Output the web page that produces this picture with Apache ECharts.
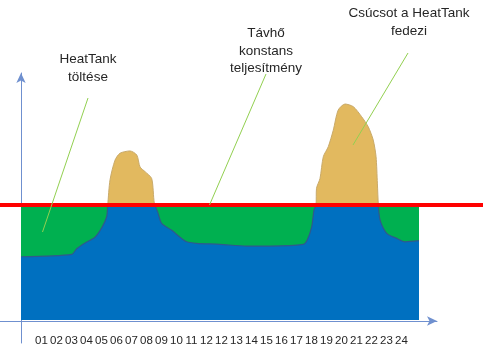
<!DOCTYPE html>
<html>
<head>
<meta charset="utf-8">
<script src="https://cdn.jsdelivr.net/npm/echarts@6/dist/echarts.min.js"></script>
<style>
html,body{margin:0;padding:0;background:#fff;}
#c{width:487px;height:356px;}
</style>
</head>
<body>
<div id="c"></div>
<script>
// hour of day (x) and heat demand (relative units, constant supply level = 100)
var hours  = [0, 3.06, 3.36, 3.86, 4.46, 4.90, 5.17, 5.23, 5.37, 5.67, 5.97, 6.57, 6.98, 7.18, 7.48, 7.88, 8.04, 8.24, 8.48, 9.09, 9.59, 9.99, 10.59, 12.0, 13.61, 15.02, 17.02, 17.26, 17.53, 17.67, 17.79, 17.82, 18.03, 18.23, 18.53, 18.83, 19.13, 19.54, 20.04, 20.54, 20.94, 21.24, 21.41, 21.49, 21.55, 21.65, 22.05, 22.65, 23.16, 24];
var demand = [55, 57, 62, 67, 72, 81, 90, 100, 122, 139, 145, 147, 143.5, 133, 129, 123, 101.5, 94, 84, 78, 72, 68, 66.7, 65.8, 64.3, 64.3, 65.8, 69.6, 81, 95.7, 100, 114.5, 123, 142, 150.7, 165, 182.6, 187.8, 185.5, 176.8, 168, 156.5, 142, 119, 100, 87, 75.4, 71, 68, 69];
var levelHours = [0, 24];
var levelValue = 100;
var tickLabels = ['01','02','03','04','05','06','07','08','09','10','11','12','12','13','14','15','16','17','18','19','20','21','22','23','24'];
var notes = [
  {lines:['HeatTank','töltése']},
  {lines:['Távhő','konstans','teljesítmény']},
  {lines:['Csúcsot a HeatTank','fedezi']}
];

function pairs(xs, ys){ return xs.map(function(x,i){ return [x, ys[i]]; }); }
var demandData = pairs(hours, demand);
var levelData = levelHours.map(function(h){ return [h, levelValue]; });

var chart = echarts.init(document.getElementById('c'), null, {renderer:'canvas'});
var axisCol = '#6F90CF';
var txtStyle = {fontFamily:'Liberation Sans', fontSize:13.5, fill:'#262626', textAlign:'center', lineHeight:17.5};

var option = {
  animation:false,
  backgroundColor:'#fff',
  grid:[
    {left:21, right:68, top:67, bottom:36},   // 0 main
    {left:21, right:68, top:205, bottom:36},  // 1 blue, clipped at supply level
    {left:0, right:4, top:67, bottom:36},     // 2 red level line
    {left:0, right:50, top:67, bottom:35},    // 3 x axis arrow
    {left:21, right:68, top:73, bottom:13},   // 4 y axis arrow
    {left:34, right:78, top:67, bottom:35}    // 5 tick labels
  ],
  xAxis:[
    {gridIndex:0, type:'value', min:0, max:24, show:false},
    {gridIndex:1, type:'value', min:0, max:24, show:false},
    {gridIndex:2, type:'value', min:0, max:1, show:false},
    {gridIndex:3, type:'value', min:0, max:1, axisLine:{show:true, onZero:false, symbol:['none','arrow'], symbolSize:[7,10], lineStyle:{color:axisCol, width:1}}, axisTick:{show:false}, axisLabel:{show:false}, splitLine:{show:false}},
    {gridIndex:4, type:'value', min:0, max:1, show:false},
    {gridIndex:5, type:'category', data:tickLabels, boundaryGap:true, axisLine:{show:false}, axisTick:{show:false}, splitLine:{show:false},
      axisLabel:{show:true, interval:0, margin:14, fontFamily:'Liberation Sans', fontSize:11.5, color:'#262626'}}
  ],
  yAxis:[
    {gridIndex:0, type:'value', min:0, max:220, show:false},
    {gridIndex:1, type:'value', min:0, max:100, show:false},
    {gridIndex:2, type:'value', min:0, max:220, show:false},
    {gridIndex:3, type:'value', min:0, max:1, show:false},
    {gridIndex:4, type:'value', min:0, max:1, axisLine:{show:true, onZero:false, symbol:['none','arrow'], symbolSize:[7,10], lineStyle:{color:axisCol, width:1}}, axisTick:{show:false}, axisLabel:{show:false}, splitLine:{show:false}},
    {gridIndex:5, type:'value', min:0, max:1, show:false}
  ],
  series:[
    {type:'line', xAxisIndex:0, yAxisIndex:0, data:demandData, smooth:0.25, showSymbol:false, z:1,
      lineStyle:{width:1, color:'#C9AA6A'}, areaStyle:{color:'#E2B95F', opacity:1}, itemStyle:{color:'#E2B95F'}},
    {type:'line', xAxisIndex:0, yAxisIndex:0, data:levelData, showSymbol:false, z:2,
      lineStyle:{width:0}, areaStyle:{color:'#00B050', opacity:1}},
    {type:'line', xAxisIndex:1, yAxisIndex:1, data:demandData, smooth:0.25, showSymbol:false, z:3, clip:true,
      lineStyle:{width:1.2, color:'#2F5A8C'}, areaStyle:{color:'#0070C0', opacity:1}},
    {type:'line', xAxisIndex:2, yAxisIndex:2, data:[[0, levelValue],[1, levelValue]], showSymbol:false, z:5,
      lineStyle:{width:4, color:'#FF0000'}}
  ],
  graphic:[
    {type:'line', shape:{x1:88, y1:98, x2:42.5, y2:232}, style:{stroke:'#92D050', lineWidth:1}, z:10},
    {type:'line', shape:{x1:266, y1:74, x2:209.5, y2:205}, style:{stroke:'#92D050', lineWidth:1}, z:10},
    {type:'line', shape:{x1:408, y1:53, x2:353, y2:145}, style:{stroke:'#92D050', lineWidth:1}, z:10},
    {type:'text', x:88, y:51, style:Object.assign({text:notes[0].lines.join('\n')}, txtStyle), z:10},
    {type:'text', x:266, y:25, style:Object.assign({text:notes[1].lines.join('\n')}, txtStyle), z:10},
    {type:'text', x:409, y:5, style:Object.assign({text:notes[2].lines.join('\n')}, txtStyle), z:10}
  ]
};
chart.setOption(option);
</script>
</body>
</html>
